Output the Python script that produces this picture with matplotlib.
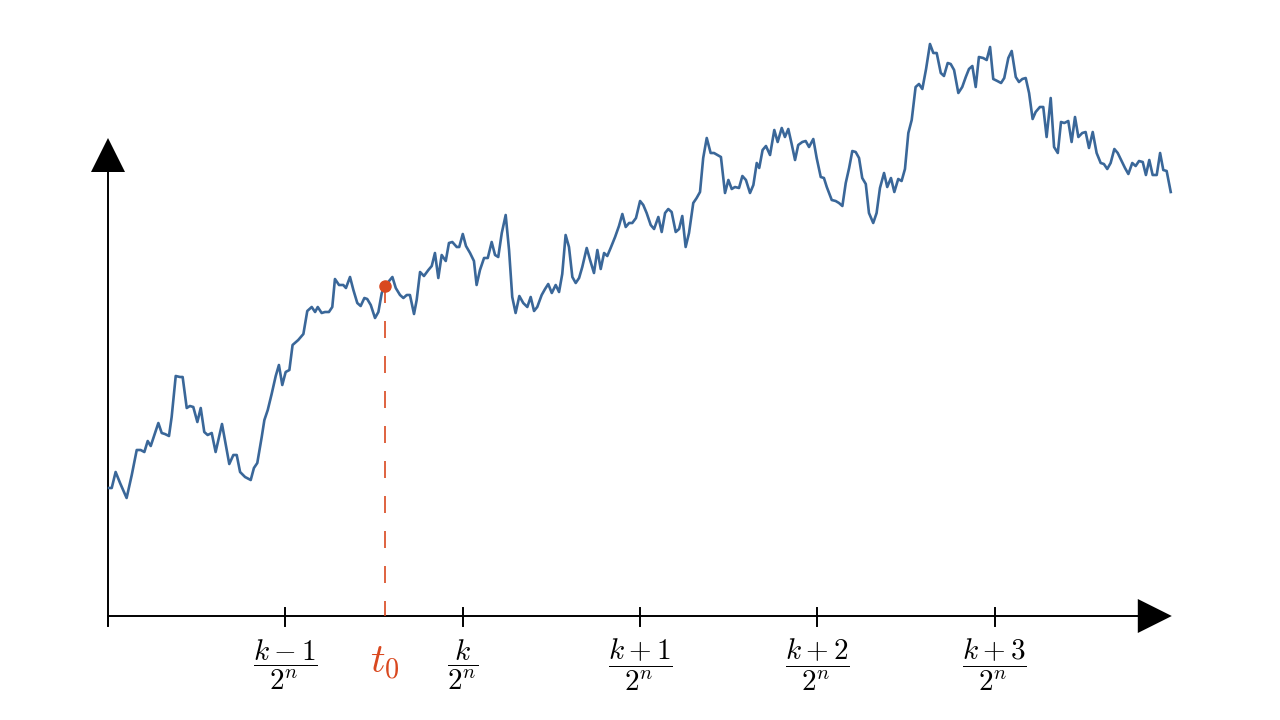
import matplotlib
matplotlib.use("Agg")
import matplotlib.pyplot as plt
import numpy as np

plt.rcParams['mathtext.fontset'] = 'cm'
plt.rcParams['lines.scale_dashes'] = False

# sample path of the process (time in units of 1/2^n, value in arbitrary units)
t = [0.006, 0.021, 0.043, 0.068, 0.105, 0.134, 0.162, 0.184, 0.205, 0.224, 0.241, 0.284, 0.303, 0.321, 0.344,
     0.359, 0.382, 0.406, 0.421, 0.444, 0.462, 0.481, 0.504, 0.523, 0.543, 0.562, 0.585, 0.607, 0.643, 0.684,
     0.707, 0.726, 0.745, 0.773, 0.805, 0.823, 0.842, 0.867, 0.882, 0.901, 0.923, 0.946, 0.964, 0.983, 1.002,
     1.023, 1.041, 1.073, 1.102, 1.124, 1.149, 1.168, 1.183, 1.205, 1.224, 1.246, 1.265, 1.280, 1.303, 1.327,
     1.342, 1.365, 1.384, 1.406, 1.425, 1.446, 1.462, 1.482, 1.506, 1.525, 1.544, 1.562, 1.604, 1.623, 1.647,
     1.666, 1.685, 1.703, 1.726, 1.741, 1.760, 1.782, 1.807, 1.826, 1.844, 1.863, 1.882, 1.905, 1.923, 1.942,
     1.967, 1.981, 2.001, 2.019, 2.042, 2.064, 2.079, 2.098, 2.121, 2.142, 2.164, 2.183, 2.201, 2.221, 2.243,
     2.262, 2.280, 2.299, 2.320, 2.342, 2.365, 2.384, 2.403, 2.421, 2.446, 2.465, 2.483, 2.503, 2.525, 2.544,
     2.562, 2.581, 2.600, 2.619, 2.638, 2.657, 2.675, 2.700, 2.719, 2.741, 2.760, 2.779, 2.798, 2.816, 2.835,
     2.860, 2.882, 2.901, 2.920, 2.939, 2.957, 2.978, 3.001, 3.019, 3.038, 3.061, 3.080, 3.104, 3.123, 3.142,
     3.160, 3.179, 3.202, 3.221, 3.239, 3.258, 3.277, 3.301, 3.320, 3.339, 3.357, 3.377, 3.399, 3.418, 3.437,
     3.457, 3.480, 3.499, 3.518, 3.536, 3.559, 3.578, 3.598, 3.621, 3.640, 3.659, 3.673, 3.692, 3.711, 3.734,
     3.758, 3.777, 3.800, 3.818, 3.837, 3.856, 3.875, 3.893, 3.916, 3.935, 3.954, 3.978, 3.997, 4.020, 4.038,
     4.054, 4.082, 4.104, 4.123, 4.142, 4.161, 4.180, 4.198, 4.217, 4.236, 4.254, 4.274, 4.292, 4.316, 4.335,
     4.354, 4.377, 4.395, 4.416, 4.435, 4.457, 4.476, 4.495, 4.514, 4.533, 4.555, 4.574, 4.593, 4.614, 4.636,
     4.655, 4.674, 4.697, 4.715, 4.736, 4.753, 4.772, 4.796, 4.818, 4.838, 4.856, 4.875, 4.894, 4.912, 4.936,
     4.956, 4.975, 4.993, 5.016, 5.037, 5.055, 5.078, 5.097, 5.120, 5.138, 5.157, 5.176, 5.195, 5.215, 5.232,
     5.256, 5.275, 5.294, 5.317, 5.336, 5.357, 5.375, 5.394, 5.416, 5.435, 5.454, 5.473, 5.495, 5.514, 5.533,
     5.554, 5.576, 5.599, 5.617, 5.636, 5.655, 5.676, 5.695, 5.717, 5.736, 5.755, 5.777, 5.796, 5.815, 5.836,
     5.854, 5.873, 5.892, 5.915, 5.934, 5.952, 5.971, 5.994]
W = [1.28, 1.28, 1.44, 1.33, 1.18, 1.41, 1.66, 1.66, 1.64, 1.75, 1.70, 1.93, 1.83, 1.82, 1.80,
     1.99, 2.40, 2.39, 2.39, 2.08, 2.10, 2.09, 1.94, 2.08, 1.84, 1.81, 1.83, 1.64, 1.92, 1.52,
     1.61, 1.61, 1.44, 1.39, 1.36, 1.48, 1.53, 1.79, 1.96, 2.06, 2.22, 2.40, 2.51, 2.31, 2.44,
     2.46, 2.71, 2.76, 2.82, 3.05, 3.09, 3.04, 3.09, 3.03, 3.04, 3.04, 3.09, 3.37, 3.31, 3.31,
     3.28, 3.39, 3.26, 3.13, 3.10, 3.18, 3.17, 3.11, 2.98, 3.04, 3.23, 3.30, 3.39, 3.28, 3.21,
     3.18, 3.21, 3.21, 3.02, 3.16, 3.44, 3.40, 3.46, 3.50, 3.63, 3.38, 3.61, 3.55, 3.73, 3.74,
     3.69, 3.69, 3.82, 3.70, 3.63, 3.55, 3.31, 3.46, 3.58, 3.58, 3.74, 3.61, 3.59, 3.83, 4.01,
     3.66, 3.19, 3.03, 3.20, 3.13, 3.09, 3.19, 3.05, 3.09, 3.21, 3.27, 3.32, 3.23, 3.31, 3.24,
     3.42, 3.81, 3.69, 3.39, 3.33, 3.38, 3.49, 3.68, 3.56, 3.43, 3.66, 3.47, 3.63, 3.60, 3.68,
     3.79, 3.90, 4.02, 3.89, 3.93, 3.93, 3.98, 4.15, 4.11, 4.03, 3.91, 3.87, 3.99, 3.84, 4.03,
     4.07, 4.04, 3.84, 3.87, 4.00, 3.69, 3.83, 4.13, 4.18, 4.24, 4.58, 4.78, 4.63, 4.63, 4.61,
     4.59, 4.23, 4.36, 4.27, 4.29, 4.28, 4.40, 4.36, 4.23, 4.31, 4.53, 4.48, 4.66, 4.70, 4.61,
     4.86, 4.74, 4.88, 4.79, 4.87, 4.72, 4.56, 4.71, 4.74, 4.75, 4.69, 4.77, 4.58, 4.39, 4.38,
     4.29, 4.16, 4.15, 4.13, 4.10, 4.33, 4.48, 4.65, 4.64, 4.58, 4.38, 4.32, 4.03, 3.93, 4.03,
     4.28, 4.43, 4.29, 4.38, 4.24, 4.37, 4.35, 4.47, 4.83, 4.96, 5.29, 5.32, 5.27, 5.47, 5.72,
     5.63, 5.63, 5.43, 5.40, 5.53, 5.52, 5.46, 5.23, 5.29, 5.39, 5.47, 5.50, 5.29, 5.59, 5.58,
     5.56, 5.69, 5.37, 5.35, 5.33, 5.38, 5.58, 5.65, 5.39, 5.34, 5.37, 5.38, 5.23, 4.97, 5.04,
     5.09, 5.09, 4.79, 5.18, 4.69, 4.63, 4.94, 4.93, 4.95, 4.74, 4.99, 4.79, 4.83, 4.84, 4.68,
     4.84, 4.63, 4.53, 4.52, 4.47, 4.53, 4.67, 4.63, 4.55, 4.48, 4.42, 4.53, 4.50, 4.55, 4.54,
     4.41, 4.56, 4.41, 4.41, 4.63, 4.46, 4.45, 4.24]

tick_pos = [1, 2, 3, 4, 5]
tick_labels = [r'$\dfrac{k-1}{2^n}$', r'$\dfrac{k}{2^n}$', r'$\dfrac{k+1}{2^n}$',
               r'$\dfrac{k+2}{2^n}$', r'$\dfrac{k+3}{2^n}$']
t0_index = 71
t0_label = r'$t_0$'

BLUE = '#3a6799'
RED = '#d9481f'

W_PX, H_PX = 1280, 720
fig = plt.figure(figsize=(12.8, 7.2), dpi=100)
ax = fig.add_axes([0, 0, 1, 1])
# map: origin at pixel (108, 616), 177.3 px per time unit, 100 px per value unit
ox, oy, sx, sy = 108, 616, 177.3, 100.0
ax.set_xlim(-ox / sx, (W_PX - ox) / sx)
ax.set_ylim(-(H_PX - oy) / sy, oy / sy)
ax.axis('off')

def px_x(p):
    return p / sx
def px_y(p):
    return p / sy

t_end = 6.0
# x axis with arrow
ah_len, ah_half = 34, 17
ax.plot([0, t_end - px_x(ah_len)], [0, 0], color='black', lw=1.4, solid_capstyle='butt', zorder=2)
ax.fill([t_end - px_x(ah_len), t_end, t_end - px_x(ah_len)], [px_y(ah_half), 0, -px_y(ah_half)],
        color='black', lw=0, zorder=3)
# y axis with arrow
y_top = 4.78
ax.plot([0, 0], [-px_y(10), y_top - px_y(ah_len)], color='black', lw=1.4, solid_capstyle='butt', zorder=2)
ax.fill([-px_x(ah_half), 0, px_x(ah_half)], [y_top - px_y(ah_len), y_top, y_top - px_y(ah_len)],
        color='black', lw=0, zorder=3)

# ticks
for tp in [0] + tick_pos:
    ax.plot([tp, tp], [-px_y(10), px_y(8) if tp else 0], color='black', lw=1.4, zorder=2)
for tp, lab in zip(tick_pos, tick_labels):
    ax.text(tp, -px_y(49), lab, ha='center', va='center', fontsize=21, color='black')

# path
ax.plot(t, W, color=BLUE, lw=1.9, zorder=4, solid_joinstyle='round')

# t0 marker (dash lengths given in points: 17 px on, 18 px off)
tt0, w0 = t[t0_index], W[t0_index]
ax.plot([tt0, tt0], [w0, 0], color=RED, lw=1.2, dashes=(17 * 0.72, 18 * 0.72),
        solid_capstyle='butt', dash_capstyle='butt', zorder=3)
ax.plot([tt0], [w0], 'o', color=RED, ms=8, zorder=5)
ax.text(tt0, -px_y(46), t0_label, ha='center', va='center', fontsize=29, color=RED)

fig.savefig('out.png', dpi=100)
